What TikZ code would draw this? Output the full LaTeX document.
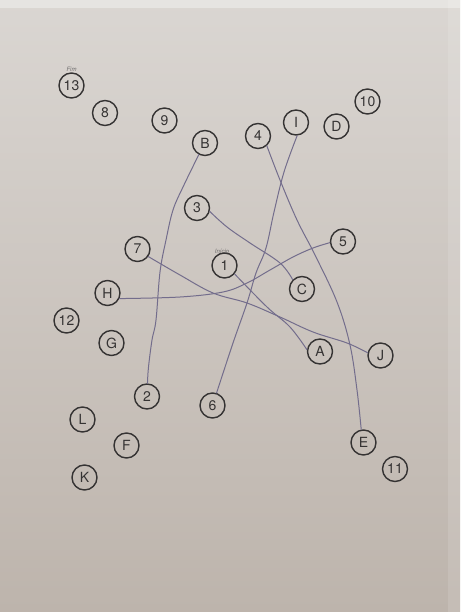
\documentclass[tikz,border=0pt]{standalone}
\usepackage{fontspec}
\setmainfont{TeX Gyre Heros}
\definecolor{ink}{HTML}{353333}
\definecolor{pen}{HTML}{736D8C}
\definecolor{papertop}{HTML}{DAD6D2}
\definecolor{paperbot}{HTML}{BDB4AC}
\begin{document}
\begin{tikzpicture}[x=1pt,y=-1pt,
  dot/.style={circle,draw=ink,line width=1.4pt,minimum size=25pt,inner sep=0pt,
    text=ink,font=\fontsize{14}{15}\selectfont},
  tag/.style={text=ink!70,font=\fontsize{6}{7}\itshape\selectfont,inner sep=0pt},
  penline/.style={draw=pen,line width=1pt,line cap=round,line join=round}]
\useasboundingbox (0,0) rectangle (460,612);
\shade[top color=papertop,bottom color=paperbot] (0,0) rectangle (460,612);
\fill[white,opacity=0.35] (0,0) rectangle (460,8);
\fill[white,opacity=0.12] (448,0) rectangle (460,612);

\node[dot] (n13) at (71.5,85.5) {13};
\node[tag] (fim) at (71.5,69) {Fim};
\node[dot] (n8) at (105,113) {8};
\node[dot] (n9) at (164.5,120.5) {9};
\node[dot] (nB) at (205,143) {B};
\node[dot] (n4) at (258,136) {4};
\node[dot] (nI) at (296,122.5) {I};
\node[dot] (nD) at (336.5,126.5) {D};
\node[dot] (n10) at (367.5,101.5) {10};
\node[dot] (n3) at (197,208) {3};
\node[dot] (n7) at (137.5,249) {7};
\node[tag] (inicio) at (222,251) {Início};
\node[dot] (n1) at (224.5,265.5) {1};
\node[dot] (n5) at (343,241.5) {5};
\node[dot] (nH) at (107.5,293) {H};
\node[dot] (nC) at (302,289) {C};
\node[dot] (n12) at (66.5,320.5) {12};
\node[dot] (nG) at (111.5,343) {G};
\node[dot] (nA) at (320,351.5) {A};
\node[dot] (nJ) at (380.5,355.5) {J};
\node[dot] (n2) at (147,396.5) {2};
\node[dot] (n6) at (212.5,405.5) {6};
\node[dot] (nL) at (82.5,419.5) {L};
\node[dot] (nF) at (126.5,445.5) {F};
\node[dot] (nE) at (363.5,442.5) {E};
\node[dot] (n11) at (395,469) {11};
\node[dot] (nK) at (84.5,477.5) {K};

% B -- 2
\draw[penline] plot[smooth,tension=0.6] coordinates {(nB.-118) (183,187) (173,210) (166,240) (160,272) (156,320) (152,340) (148.5,367) (n2.88)};
% I -- 6
\draw[penline] plot[smooth,tension=0.6] coordinates {(nI.-85) (284,172) (274,212) (266,248) (256,273) (247,303) (233,343) (n6.72)};
% 4 -- E
\draw[penline] plot[smooth,tension=0.6] coordinates {(n4.-48) (280,180) (297,220) (315,255) (337,302) (350,345) (357,390) (nE.100)};
% 3 -- C
\draw[penline] plot[smooth,tension=0.6] coordinates {(n3.-15) (227,227) (250,243) (280,263) (nC.135)};
% H -- 5
\draw[penline] plot[smooth,tension=0.6] coordinates {(nH.-25) (180,297) (223,292) (247,283) (270,270) (293,257) (313,248) (n5.185)};
% 7 -- J
\draw[penline] plot[smooth,tension=0.6] coordinates {(n7.-35) (180,275) (213,293) (247,303) (280,317) (313,332) (347,343) (nJ.168)};
% 1 -- A
\draw[penline] plot[smooth,tension=0.6] coordinates {(n1.-40) (267,307) (290,327) (nA.172)};
\end{tikzpicture}
\end{document}
